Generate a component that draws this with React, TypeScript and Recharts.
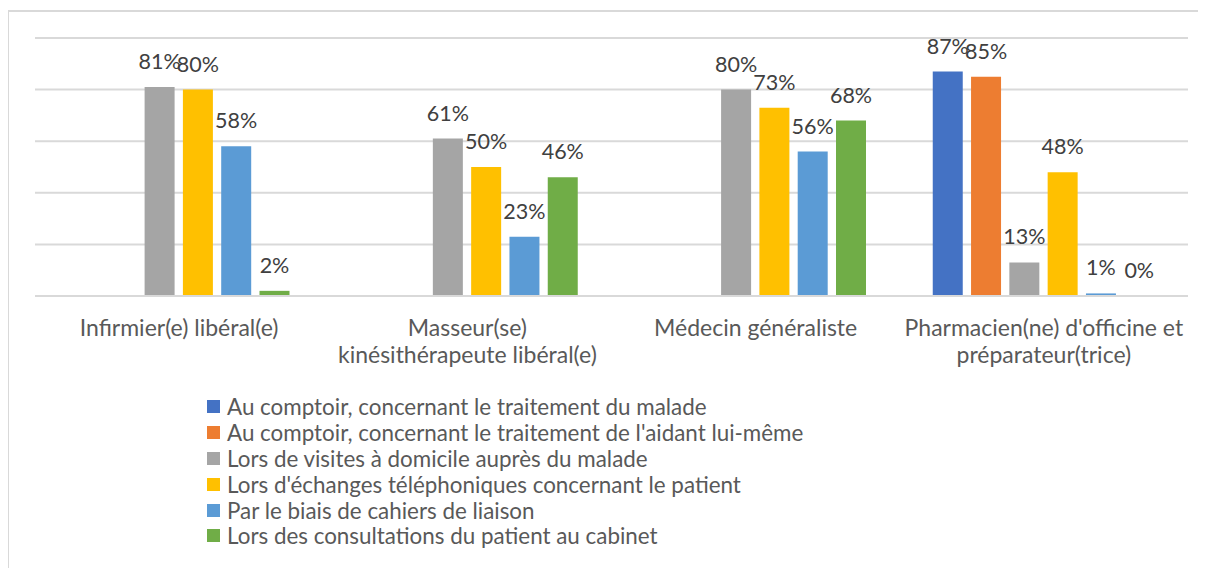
import React from 'react';
import { BarChart, Bar, XAxis, YAxis, CartesianGrid, LabelList } from 'recharts';

const CATEGORIES = [
  'Infirmier(e) libéral(e)',
  'Masseur(se) kinésithérapeute libéral(e)',
  'Médecin généraliste',
  "Pharmacien(ne) d'officine et préparateur(trice)",
];

// how each category label wraps under the axis
const CATEGORY_LINES: string[][] = [
  ['Infirmier(e) libéral(e)'],
  ['Masseur(se)', 'kinésithérapeute libéral(e)'],
  ['Médecin généraliste'],
  ["Pharmacien(ne) d'officine et", 'préparateur(trice)'],
];

const SERIES_NAMES = [
  'Au comptoir, concernant le traitement du malade',
  "Au comptoir, concernant le traitement de l'aidant lui-même",
  'Lors de visites à domicile auprès du malade',
  "Lors d'échanges téléphoniques concernant le patient",
  'Par le biais de cahiers de liaison',
  'Lors des consultations du patient au cabinet',
];

const COLORS = ['#4472C4', '#ED7D31', '#A5A5A5', '#FFC000', '#5B9BD5', '#70AD47'];

// values per category, null = no bar
const comptoirMalade = [null, null, null, 87];
const comptoirAidant = [null, null, null, 85];
const visitesDomicile = [81, 61, 80, 13];
const echangesTel = [80, 50, 73, 48];
const cahiersLiaison = [58, 23, 56, 1];
const consultations = [2, 46, 68, 0];

const SERIES_VALUES = [
  comptoirMalade,
  comptoirAidant,
  visitesDomicile,
  echangesTel,
  cahiersLiaison,
  consultations,
];

const Y_TICKS = [0, 20, 40, 60, 80, 100];

const FONT = 'Lato, "Open Sans", sans-serif';

const data = CATEGORIES.map((name, i) => {
  const row: Record<string, any> = { name, idx: i };
  SERIES_VALUES.forEach((vals, s) => {
    row[`s${s}`] = vals[i];
  });
  return row;
});

const CategoryTick = ({ x, y, payload }: any) => {
  const lines = CATEGORY_LINES[payload.index] || [payload.value];
  return (
    <text x={x} y={y} textAnchor="middle" fill="#595959" fontSize={23} fontFamily={FONT}>
      {lines.map((line, i) => (
        <tspan key={i} x={x} dy={i === 0 ? 32 : 27}>
          {line}
        </tspan>
      ))}
    </text>
  );
};

const renderValueLabel = (props: any) => {
  const { x, y, width, value } = props;
  if (value === null || value === undefined) return null;
  return (
    <text
      x={x + width / 2}
      y={y - 18}
      textAnchor="middle"
      fill="#404040"
      fontSize={21.5}
      fontFamily={FONT}
    >
      {`${value}%`}
    </text>
  );
};

// keep zero bars in the geometry so their "0%" label still gets drawn
const tinyForZero = (value: any) => (value === 0 ? 0.01 : 0);

export default function App() {
  return (
    <div
      style={{
        position: 'relative',
        marginLeft: -1,
        marginTop: 2,
        width: 1210,
        height: 570,
        borderLeft: '2px solid #d9d9d9',
        borderTop: '2px solid #d9d9d9',
        fontFamily: FONT,
      }}
    >
      <BarChart
        width={1198}
        height={380}
        data={data}
        margin={{ top: 26, right: 19, bottom: 0, left: 26 }}
        barGap={8.3}
        barSize={30}
      >
        <CartesianGrid
          vertical={false}
          stroke="#d9d9d9"
          strokeWidth={2}
          horizontalValues={Y_TICKS}
        />
        <YAxis hide domain={[0, 100]} ticks={Y_TICKS} />
        <XAxis
          dataKey="name"
          interval={0}
          height={96}
          tickLine={false}
          axisLine={{ stroke: '#d9d9d9', strokeWidth: 2 }}
          tick={<CategoryTick />}
        />
        {SERIES_NAMES.map((name, s) => (
          <Bar
            key={name}
            dataKey={`s${s}`}
            name={name}
            fill={COLORS[s]}
            minPointSize={tinyForZero}
            isAnimationActive={false}
          >
            <LabelList dataKey={`s${s}`} content={renderValueLabel} />
          </Bar>
        ))}
      </BarChart>
      <div style={{ position: 'absolute', left: 198, top: 382 }}>
        {SERIES_NAMES.map((name, s) => (
          <div
            key={name}
            style={{ display: 'flex', alignItems: 'center', height: 25.8, color: '#595959', fontSize: 22.4 }}
          >
            <span
              style={{ display: 'inline-block', width: 13, height: 13, background: COLORS[s], marginRight: 7 }}
            />
            <span style={{ whiteSpace: 'nowrap' }}>{name}</span>
          </div>
        ))}
      </div>
    </div>
  );
}
